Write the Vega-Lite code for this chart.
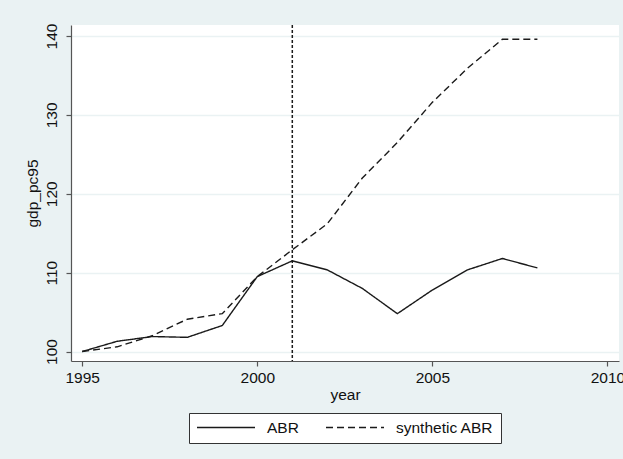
{
  "$schema": "https://vega.github.io/schema/vega-lite/v6.json",
  "width": 548,
  "height": 336,
  "autosize": {"type": "none"},
  "padding": {"left": 71, "top": 25, "right": 4, "bottom": 98},
  "background": "#EAF2F3",
  "config": {
    "view": {"fill": "white", "stroke": null},
    "font": "Liberation Sans",
    "axis": {
      "labelFont": "Liberation Sans",
      "titleFont": "Liberation Sans",
      "labelFontSize": 15.5,
      "titleFontSize": 15.5,
      "titleFontWeight": "normal",
      "labelColor": "#111111",
      "titleColor": "#111111",
      "domainColor": "#555555",
      "tickColor": "#555555",
      "tickSize": 5,
      "domainWidth": 1.2,
      "tickWidth": 1.2
    },
    "legend": {
      "labelFont": "Liberation Sans",
      "labelFontSize": 15.5,
      "labelColor": "#111111"
    }
  },
  "datasets": {
    "series": [
      {"year": 1995, "series": "ABR", "value": 100.0},
      {"year": 1996, "series": "ABR", "value": 101.3},
      {"year": 1997, "series": "ABR", "value": 101.9},
      {"year": 1998, "series": "ABR", "value": 101.8},
      {"year": 1999, "series": "ABR", "value": 103.3},
      {"year": 2000, "series": "ABR", "value": 109.5},
      {"year": 2001, "series": "ABR", "value": 111.5},
      {"year": 2002, "series": "ABR", "value": 110.35},
      {"year": 2003, "series": "ABR", "value": 108.0},
      {"year": 2004, "series": "ABR", "value": 104.8},
      {"year": 2005, "series": "ABR", "value": 107.8},
      {"year": 2006, "series": "ABR", "value": 110.35},
      {"year": 2007, "series": "ABR", "value": 111.8},
      {"year": 2008, "series": "ABR", "value": 110.6},
      {"year": 1995, "series": "synthetic ABR", "value": 100.0},
      {"year": 1996, "series": "synthetic ABR", "value": 100.6},
      {"year": 1997, "series": "synthetic ABR", "value": 102.0},
      {"year": 1998, "series": "synthetic ABR", "value": 104.1},
      {"year": 1999, "series": "synthetic ABR", "value": 104.8},
      {"year": 2000, "series": "synthetic ABR", "value": 109.5},
      {"year": 2001, "series": "synthetic ABR", "value": 112.9},
      {"year": 2002, "series": "synthetic ABR", "value": 116.2},
      {"year": 2003, "series": "synthetic ABR", "value": 122.0},
      {"year": 2004, "series": "synthetic ABR", "value": 126.5},
      {"year": 2005, "series": "synthetic ABR", "value": 131.6},
      {"year": 2006, "series": "synthetic ABR", "value": 135.9},
      {"year": 2007, "series": "synthetic ABR", "value": 139.6},
      {"year": 2008, "series": "synthetic ABR", "value": 139.6}
    ],
    "marker": [{"year": 2001}]
  },
  "layer": [
    {
      "data": {"name": "series"},
      "mark": {"type": "line", "strokeWidth": 1.4, "color": "#1a1a1a"},
      "encoding": {
        "x": {
          "field": "year",
          "type": "quantitative",
          "scale": {"domain": [1994.68, 2010.33], "nice": false, "zero": false},
          "axis": {
            "values": [1995, 2000, 2005, 2010],
            "format": "d",
            "grid": false,
            "title": "year",
            "labelPadding": 4,
            "titlePadding": 2
          }
        },
        "y": {
          "field": "value",
          "type": "quantitative",
          "scale": {"domain": [98.8, 141.4], "nice": false, "zero": false},
          "axis": {
            "values": [100, 110, 120, 130, 140],
            "grid": true,
            "gridColor": "#EAF2F3",
            "gridWidth": 1.5,
            "labelAngle": -90,
            "labelAlign": "center",
            "labelBaseline": "bottom",
            "labelPadding": 7,
            "title": "gdp_pc95",
            "titlePadding": 4
          }
        },
        "strokeDash": {
          "field": "series",
          "type": "nominal",
          "scale": {"domain": ["ABR", "synthetic ABR"], "range": [[1, 0], [7, 4]]},
          "legend": {
            "title": null,
            "orient": "none",
            "direction": "horizontal",
            "legendX": 118,
            "legendY": 388,
            "padding": 7,
            "strokeColor": "#333333",
            "fillColor": "white",
            "symbolType": "stroke",
            "symbolSize": 3364,
            "symbolStrokeWidth": 1.4,
            "symbolStrokeColor": "#1a1a1a",
            "clipHeight": 15,
            "labelOffset": 11,
            "columnPadding": 26
          }
        }
      }
    },
    {
      "data": {"name": "marker"},
      "mark": {"type": "rule", "strokeDash": [3, 2], "strokeWidth": 1.5, "color": "#1a1a1a"},
      "encoding": {
        "x": {"field": "year", "type": "quantitative"}
      }
    }
  ]
}
